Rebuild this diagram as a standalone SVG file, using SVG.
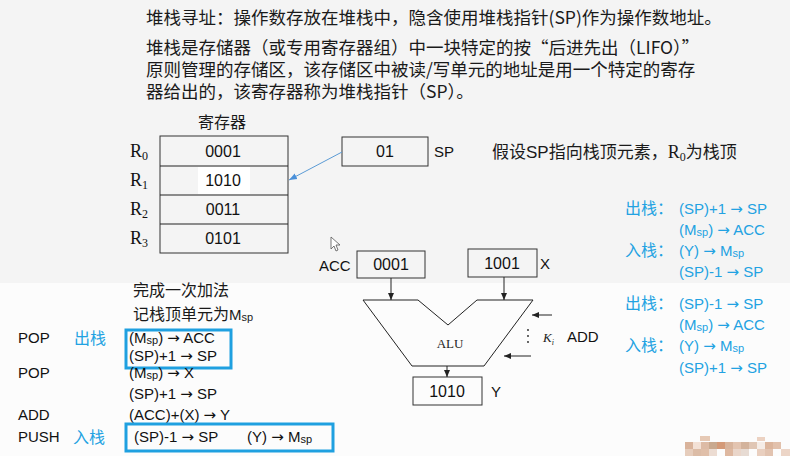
<svg xmlns="http://www.w3.org/2000/svg" width="790" height="456" viewBox="0 0 790 456">
<style>
.cn{font-family:"Noto Sans CJK SC",sans-serif;font-size:17.5px;fill:#1a1a1a}
.t{font-family:"Liberation Sans","Noto Sans CJK SC",sans-serif;font-size:15px;fill:#111}
.d{font-family:"Liberation Sans",sans-serif;font-size:16px;fill:#111}
.b{font-family:"Liberation Sans","Noto Sans CJK SC",sans-serif;font-size:15px;fill:#22a2e2}
.bc{font-family:"Noto Sans CJK SC",sans-serif;font-size:16px;fill:#22a2e2}
.r{font-family:"Liberation Serif",serif;font-size:18px;fill:#111}
.ar{font-family:"DejaVu Sans",sans-serif}
.box{fill:none;stroke:#333;stroke-width:1}
.blue{fill:none;stroke:#1fa0e0;stroke-width:3}
.ln{stroke:#222;stroke-width:1;fill:none}
</style>
<defs>
<marker id="ah" markerWidth="8" markerHeight="8" refX="7" refY="4" orient="auto" markerUnits="userSpaceOnUse"><path d="M0,1 L7,4 L0,7 Z" fill="#222"/></marker>
<marker id="ahb" markerWidth="9" markerHeight="8" refX="8" refY="4" orient="auto" markerUnits="userSpaceOnUse"><path d="M0,1 L8,4 L0,7 Z" fill="#4a90d9"/></marker>
</defs>
<rect x="0" y="0" width="790" height="283" fill="#f4f4f4"/>
<rect x="0" y="283" width="790" height="173" fill="#fcfcfc"/>

<g id="intro">
<text class="cn" x="146" y="24">堆栈寻址：操作数存放在堆栈中，隐含使用堆栈指针(SP)作为操作数地址。</text>
<text class="cn" x="146" y="54">堆栈是存储器（或专用寄存器组）中一块特定的按“后进先出（LIFO）”<tspan x="146" dy="22">原则管理的存储区，该存储区中被读/写单元的地址是用一个特定的寄存</tspan><tspan x="146" dy="22">器给出的，该寄存器称为堆栈指针（SP）。</tspan></text>
</g>

<g id="registers">
<text class="cn" x="222" y="128" text-anchor="middle" style="font-size:16px">寄存器</text>
<rect x="198" y="167" width="52" height="27" fill="#ffffff"/>
<rect class="box" x="160" y="136" width="128" height="117"/>
<line class="ln" x1="160" y1="166" x2="288" y2="166"/>
<line class="ln" x1="160" y1="195" x2="288" y2="195"/>
<line class="ln" x1="160" y1="224" x2="288" y2="224"/>
<text class="d" x="223" y="157" text-anchor="middle">0001</text>
<text class="d" x="223" y="186" text-anchor="middle">1010</text>
<text class="d" x="223" y="215" text-anchor="middle">0011</text>
<text class="d" x="223" y="244" text-anchor="middle">0101</text>
<text class="r" x="130" y="157">R<tspan font-size="12" dy="3">0</tspan></text>
<text class="r" x="130" y="186">R<tspan font-size="12" dy="3">1</tspan></text>
<text class="r" x="130" y="215">R<tspan font-size="12" dy="3">2</tspan></text>
<text class="r" x="130" y="244">R<tspan font-size="12" dy="3">3</tspan></text>
</g>

<g id="sp">
<rect class="box" x="342" y="137" width="86" height="29"/>
<text class="d" x="385" y="157" text-anchor="middle">01</text>
<text class="t" x="434" y="157">SP</text>
</g>

<g id="note">
<text class="cn" x="492" y="158" style="font-size:17px">假设<tspan font-family="Liberation Sans">SP</tspan>指向栈顶元素，<tspan font-family="Liberation Serif" font-size="18">R</tspan><tspan font-family="Liberation Serif" font-size="12" dy="3">0</tspan><tspan dy="-3">为栈顶</tspan></text>
</g>

<g id="acc">
<rect class="box" x="357" y="251" width="68" height="27"/>
<text class="d" x="391" y="270" text-anchor="middle">0001</text>
<text class="t" x="319" y="271">ACC</text>
</g>
<g id="x">
<rect class="box" x="468" y="249" width="69" height="28"/>
<text class="d" x="502" y="269" text-anchor="middle">1001</text>
<text class="t" x="540" y="269">X</text>
</g>
<g id="alu">
<path class="ln" d="M363,300 L418,300 L448,325 L477,300 L533,300 L484,366 L412,366 Z"/>
<text x="450" y="348" text-anchor="middle" font-family="Liberation Serif,serif" font-size="13" fill="#222">ALU</text>
<text x="543" y="342" font-family="Liberation Serif,serif" font-style="italic" font-size="13" fill="#222">K<tspan font-size="8" dy="3">i</tspan></text>
<text class="t" x="567" y="342">ADD</text>
<circle cx="528" cy="330" r="0.9" fill="#222"/>
<circle cx="528" cy="336" r="0.9" fill="#222"/>
<circle cx="528" cy="342" r="0.9" fill="#222"/>
</g>
<g id="y">
<rect class="box" x="413" y="377" width="69" height="28"/>
<text class="d" x="447" y="397" text-anchor="middle">1010</text>
<text class="t" x="491" y="397">Y</text>
</g>

<g id="connectors">
<line x1="342" y1="152" x2="289" y2="180" stroke="#5b9bd5" stroke-width="1" marker-end="url(#ahb)"/>
<line class="ln" x1="391" y1="278" x2="391" y2="300" marker-end="url(#ah)"/>
<line class="ln" x1="504" y1="277" x2="504" y2="300" marker-end="url(#ah)"/>
<line class="ln" x1="447" y1="366" x2="447" y2="377" marker-end="url(#ah)"/>
<line class="ln" x1="552" y1="315" x2="532" y2="315" marker-end="url(#ah)"/>
<line class="ln" x1="531" y1="356" x2="504" y2="356" marker-end="url(#ah)"/>
</g>

<g id="rules">
<text class="bc" x="625" y="214">出栈：</text>
<text class="b" x="679" y="214">(SP)+1 <tspan class="ar">→</tspan> SP</text>
<text class="b" x="679" y="235">(M<tspan font-size="11" dy="1">sp</tspan><tspan dy="-1">) </tspan><tspan class="ar">→</tspan> ACC</text>
<text class="bc" x="625" y="256">入栈：</text>
<text class="b" x="679" y="256">(Y) <tspan class="ar">→</tspan> M<tspan font-size="11" dy="1">sp</tspan></text>
<text class="b" x="679" y="277">(SP)-1 <tspan class="ar">→</tspan> SP</text>
<text class="bc" x="625" y="309">出栈：</text>
<text class="b" x="679" y="309">(SP)-1 <tspan class="ar">→</tspan> SP</text>
<text class="b" x="679" y="330">(M<tspan font-size="11" dy="1">sp</tspan><tspan dy="-1">) </tspan><tspan class="ar">→</tspan> ACC</text>
<text class="bc" x="625" y="351">入栈：</text>
<text class="b" x="679" y="351">(Y) <tspan class="ar">→</tspan> M<tspan font-size="11" dy="1">sp</tspan></text>
<text class="b" x="679" y="373">(SP)+1 <tspan class="ar">→</tspan> SP</text>
</g>

<g id="program">
<text class="cn" x="133" y="296" style="font-size:16px">完成一次加法</text>
<text class="cn" x="133" y="320" style="font-size:16px">记栈顶单元为<tspan font-family="Liberation Sans" font-size="15">M</tspan><tspan font-family="Liberation Sans" font-size="11" dy="1">sp</tspan></text>
<text class="t" x="18" y="343">POP</text>
<text class="bc" x="74" y="344">出栈</text>
<rect class="blue" x="126" y="330" width="105" height="38"/>
<text class="t" x="129" y="343">(M<tspan font-size="11" dy="1">sp</tspan><tspan dy="-1">) </tspan><tspan class="ar">→</tspan> ACC</text>
<text class="t" x="129" y="361">(SP)+1 <tspan class="ar">→</tspan> SP</text>
<text class="t" x="18" y="378">POP</text>
<text class="t" x="129" y="378">(M<tspan font-size="11" dy="1">sp</tspan><tspan dy="-1">) </tspan><tspan class="ar">→</tspan> X</text>
<text class="t" x="129" y="399">(SP)+1 <tspan class="ar">→</tspan> SP</text>
<text class="t" x="18" y="420">ADD</text>
<text class="t" x="129" y="420">(ACC)+(X) <tspan class="ar">→</tspan> Y</text>
<text class="t" x="18" y="442">PUSH</text>
<text class="bc" x="73" y="443">入栈</text>
<rect class="blue" x="126" y="424" width="207" height="27"/>
<text class="t" x="134" y="442">(SP)-1 <tspan class="ar">→</tspan> SP</text>
<text class="t" x="247" y="442">(Y) <tspan class="ar">→</tspan> M<tspan font-size="11" dy="1">sp</tspan></text>
</g>

<g id="cursor">
<path d="M331,237 L331,249 L334,246 L336,251 L338,250 L336,245 L340,245 Z" fill="#ffffff" stroke="#555" stroke-width="0.8"/>
</g>

<g id="mosaic">
<rect x="700" y="436" width="10" height="5" fill="#e6c9b5"/>
<rect x="757" y="437" width="8" height="4" fill="#ecd2c2"/>
<rect x="685" y="442" width="8" height="7" fill="#d9b39b"/>
<rect x="693" y="442" width="8" height="7" fill="#f3e1d6"/>
<rect x="701" y="442" width="8" height="7" fill="#ddbba5"/>
<rect x="709" y="442" width="8" height="7" fill="#c9a98f"/>
<rect x="717" y="442" width="8" height="7" fill="#d49a78"/>
<rect x="725" y="442" width="8" height="7" fill="#d8b49c"/>
<rect x="733" y="442" width="8" height="7" fill="#e3c4b0"/>
<rect x="741" y="442" width="8" height="7" fill="#d3b39c"/>
<rect x="749" y="442" width="8" height="7" fill="#e0c6b4"/>
<rect x="757" y="442" width="8" height="7" fill="#f5ece6"/>
<rect x="765" y="442" width="8" height="7" fill="#dcb59c"/>
<rect x="773" y="442" width="8" height="7" fill="#e2c1ac"/>
<rect x="685" y="449" width="8" height="7" fill="#e6cdbc"/>
<rect x="693" y="449" width="8" height="7" fill="#dcbca6"/>
<rect x="701" y="449" width="8" height="7" fill="#e0bfa9"/>
<rect x="709" y="449" width="8" height="7" fill="#ecdcd2"/>
<rect x="725" y="449" width="8" height="7" fill="#deb8a0"/>
<rect x="733" y="449" width="8" height="7" fill="#ead6ca"/>
<rect x="741" y="449" width="8" height="7" fill="#e7dbd3"/>
<rect x="757" y="449" width="8" height="7" fill="#e9cfbf"/>
<rect x="765" y="449" width="8" height="7" fill="#e2c3b0"/>
<rect x="781" y="449" width="9" height="7" fill="#ecd5c7"/>
</g>
</svg>
